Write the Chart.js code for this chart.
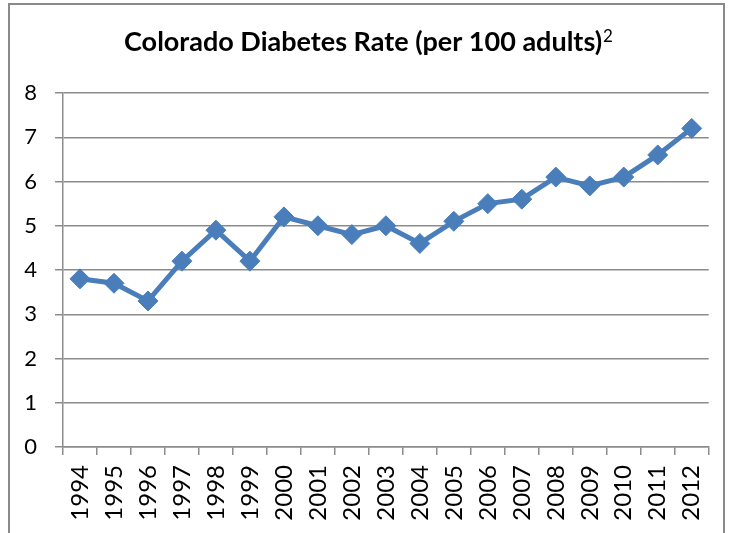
<!DOCTYPE html>
<html><head><meta charset="utf-8">
<script src="https://cdn.jsdelivr.net/npm/chart.js@4.4.0/dist/chart.umd.min.js"></script>
<style>
html,body{margin:0;padding:0;background:#fff;overflow:hidden;}
#frame{position:absolute;left:8px;top:3px;width:717px;height:600px;border:2px solid #8a8a8a;box-sizing:border-box;}
#c{position:absolute;left:0;top:0;}
</style></head>
<body>
<div id="frame"></div>
<canvas id="c" width="731" height="533"></canvas>
<script>
const years = ["1994","1995","1996","1997","1998","1999","2000","2001","2002","2003","2004","2005","2006","2007","2008","2009","2010","2011","2012"];
const rates = [3.8,3.7,3.3,4.2,4.9,4.2,5.2,5.0,4.8,5.0,4.6,5.1,5.5,5.6,6.1,5.9,6.1,6.6,7.2];
const titleMain = "Colorado Diabetes Rate (per 100 adults)";
const titleSup = "2";

const gridColor = '#8c8c8c';
const blue = '#4A7EBB';

const titlePlugin = {
  id:'supTitle',
  afterDraw(chart){
    const ctx = chart.ctx;
    ctx.save();
    ctx.fillStyle = '#000';
    ctx.textBaseline = 'alphabetic';
    ctx.font = 'bold 27px Lato';
    const w1 = ctx.measureText(titleMain).width;
    ctx.font = '17px Lato';
    const w2 = ctx.measureText(titleSup).width;
    const cx = 368;
    const x0 = cx - (w1 + w2) / 2;
    ctx.font = 'bold 27px Lato';
    ctx.fillText(titleMain, x0, 51);
    ctx.font = '17px Lato';
    ctx.fillText(titleSup, x0 + w1 + 1, 42);
    ctx.restore();
  }
};

new Chart(document.getElementById('c'), {
  type:'line',
  data:{labels:years, datasets:[{
    data:rates,
    borderColor:blue,
    backgroundColor:blue,
    borderWidth:5,
    pointStyle:'rectRot',
    pointRadius:10,
    pointHoverRadius:10,
    pointBackgroundColor:blue,
    pointBorderColor:blue,
    pointBorderWidth:1,
    tension:0,
    fill:false
  }]},
  options:{
    responsive:false,
    animation:false,
    layout:{padding:{top:93,right:18,left:0,bottom:0}},
    plugins:{legend:{display:false},title:{display:false},tooltip:{enabled:false}},
    scales:{
      x:{
        type:'category',
        offset:true,
        grid:{offset:true,drawOnChartArea:false,drawTicks:true,tickLength:8,color:gridColor,lineWidth:1.5},
        border:{color:gridColor,width:1.5},
        ticks:{autoSkip:false,maxRotation:90,minRotation:90,padding:10,color:'#000',font:{family:'Lato',size:24}},
        afterFit(s){s.height = 86;}
      },
      y:{
        min:0,max:8,
        ticks:{stepSize:1,padding:18,color:'#000',font:{family:'Lato',size:22}},
        grid:{color:gridColor,lineWidth:1.5,tickLength:8},
        border:{color:gridColor,width:1.5},
        afterFit(s){s.width = 63;}
      }
    }
  },
  plugins:[titlePlugin]
});
</script>
</body></html>
